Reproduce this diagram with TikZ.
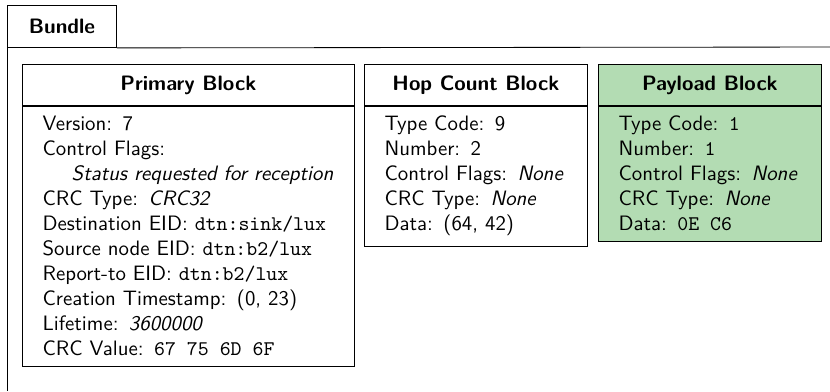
\documentclass[tikz,border=0pt]{standalone}
\usepackage{xcolor}
\usepackage{tikz}
\usetikzlibrary{positioning}

\definecolor{payloadgreen}{RGB}{179,220,179}
\newcommand{\hexgap}{\phantom{0}}

\begin{document}
\begin{tikzpicture}[
    tab/.style={draw, font=\sffamily\bfseries, minimum width=1.84cm, minimum height=0.71cm, anchor=north west, inner sep=0pt},
    head/.style={draw, font=\sffamily\bfseries, minimum height=0.69cm, anchor=north west, inner sep=0pt},
    body/.style={draw, font=\sffamily, align=left, inner xsep=0.34cm, inner ysep=0.17cm}
]
    \useasboundingbox (0,0) rectangle (14,-6.6);

    % bundle frame
    \node[tab] (bundle) at (0.118,-0.084) {Bundle};
    \coordinate (frame ne) at (14,-0.793);
    \coordinate (frame sw) at (0.118,-6.6);
    \draw (bundle.south east) -- (frame ne);
    \draw (bundle.south west) -- (frame sw);

    % blocks
    \node[head, minimum width=5.60cm] (primary) at (0.371,-1.08) {Primary Block};
    \node[body, below=0pt of primary, text width=5.60cm-0.68cm] (primary body) {%
        Version: 7\\
        Control Flags:\\
        \hspace*{1.4em}\textit{Status requested for reception}\\
        CRC Type: \textit{CRC32}\\
        Destination EID: \texttt{dtn:sink/lux}\\
        Source node EID: \texttt{dtn:b2/lux}\\
        Report-to EID: \texttt{dtn:b2/lux}\\
        Creation Timestamp: (0, 23)\\
        Lifetime: \textit{3600000}\\
        CRC Value: \texttt{67\hexgap 75\hexgap 6D\hexgap 6F}};

    \node[head, minimum width=3.76cm] (hop) at (6.14,-1.08) {Hop Count Block};
    \node[body, below=0pt of hop, text width=3.76cm-0.68cm] (hop body) {%
        Type Code: 9\\
        Number: 2\\
        Control Flags: \textit{None}\\
        CRC Type: \textit{None}\\
        Data: (64, 42)};

    \node[head, fill=payloadgreen, minimum width=3.76cm] (payload) at (10.087,-1.08) {Payload Block};
    \node[body, fill=payloadgreen, below=0pt of payload, text width=3.76cm-0.68cm] (payload body) {%
        Type Code: \texttt{1}\\
        Number: \texttt{1}\\
        Control Flags: \textit{None}\\
        CRC Type: \textit{None}\\
        Data: \texttt{0E\hexgap C6}};
\end{tikzpicture}
\end{document}
